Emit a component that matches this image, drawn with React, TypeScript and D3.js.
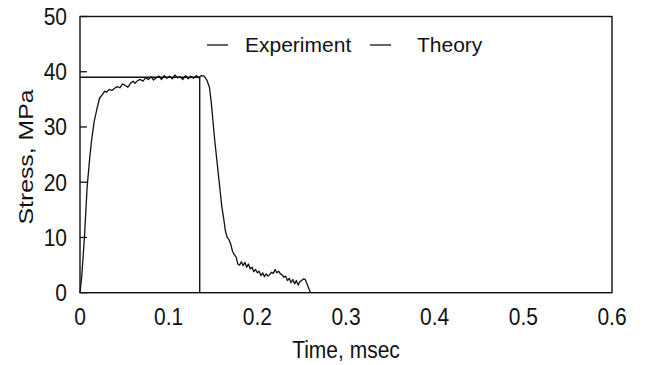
import React from "react";
import * as d3 from "d3";

const expT = [0,0.002,0.005,0.008,0.011,0.013,0.016,0.019,0.022,0.025,0.028,0.030,0.033,0.036,0.039,0.042,0.045,0.048,0.051,0.054,0.057,0.060,0.062,0.065,0.068,0.071,0.074,0.077,0.080,0.083,0.086,0.089,0.092,0.095,0.098,0.101,0.104,0.107,0.110,0.113,0.116,0.119,0.122,0.125,0.128,0.131,0.134,0.137,0.140,0.143,0.146,0.148,0.150,0.152,0.154,0.156,0.158,0.160,0.162,0.164,0.166,0.168,0.170,0.172,0.174,0.176,0.178,0.180,0.182,0.184,0.186,0.188,0.190,0.192,0.194,0.196,0.198,0.200,0.202,0.204,0.206,0.208,0.210,0.212,0.214,0.216,0.218,0.220,0.222,0.224,0.226,0.228,0.230,0.232,0.234,0.236,0.238,0.240,0.242,0.244,0.246,0.248,0.250,0.252,0.254,0.256,0.258,0.260];
const expV = [0,3,10,19,24.5,27.5,31,33.2,35.2,35.8,36.5,36.3,36.8,36.6,37.0,37.3,37.1,37.8,37.5,37.2,37.9,38.3,37.9,38.4,38.6,38.3,38.9,38.6,39.1,38.5,38.9,39.2,38.6,39.3,38.8,39.2,38.7,39.4,38.9,39.1,38.6,39.3,38.7,39.2,38.8,39.3,38.9,39.3,39.2,38.5,37.2,34.5,31,27.5,24.5,21.5,18.5,15.5,13.5,11.2,10.0,9.6,8.8,7.5,6.9,6.5,5.2,5.0,5.6,4.9,5.5,4.6,5.2,4.3,4.6,3.8,4.2,3.6,3.9,3.1,3.6,2.9,3.4,3.0,3.3,3.7,3.5,4.2,3.6,3.9,3.4,3.2,2.8,3.0,2.2,2.6,1.8,2.4,1.6,2.2,1.4,2.0,2.2,2.5,2.4,1.6,0.8,0];

const theoryT = [0, 0.135, 0.135];
const theoryV = [39.0, 39.0, 0];

const xTicks = [0, 0.1, 0.2, 0.3, 0.4, 0.5, 0.6];
const yTicks = [0, 10, 20, 30, 40, 50];
const legendLabels = ["Experiment", "Theory"];

const FONT = "Liberation Sans, Arial, Helvetica, sans-serif";

export default function App() {
  const left = 80, right = 612, top = 16.5, bottom = 292.7;
  const x = d3.scaleLinear().domain([0, 0.6]).range([left, right]);
  const y = d3.scaleLinear().domain([0, 50]).range([bottom, top]);
  const line = d3.line<[number, number]>().x(d => x(d[0])).y(d => y(d[1]));
  const expData: [number, number][] = expT.map((t, i) => [t, expV[i]]);
  const thData: [number, number][] = theoryT.map((t, i) => [t, theoryV[i]]);
  const legendX = [207, 370];
  const legendTextX = [245, 417];
  const sy = 1.1;

  return (
    <svg width={650} height={365} style={{ position: "absolute", left: 0, top: 0, background: "#fff" }} fontFamily={FONT}>
      <rect x={0} y={0} width={650} height={365} fill="#fff" />
      <path d={line(expData) || ""} fill="none" stroke="#111" strokeWidth={1.3} strokeLinejoin="round" />
      <path d={line(thData) || ""} fill="none" stroke="#111" strokeWidth={1.4} />
      <rect x={left} y={top} width={right - left} height={bottom - top} fill="none" stroke="#111" strokeWidth={1.4} />
      {yTicks.map(v => (
        <g key={"y" + v}>
          <line x1={left} x2={left + 7} y1={y(v)} y2={y(v)} stroke="#111" strokeWidth={1.3} />
          <text transform={`translate(67, ${y(v)}) scale(1, ${sy})`} dy="0.36em" textAnchor="end" fontSize={21} fill="#111">{v}</text>
        </g>
      ))}
      {xTicks.map(v => (
        <text key={"x" + v} transform={`translate(${x(v)}, 325) scale(1, ${sy})`} textAnchor="middle" fontSize={21} fill="#111">{v}</text>
      ))}
      <text transform={`translate(${(left + right) / 2}, 358) scale(1, ${sy})`} textAnchor="middle" fontSize={21} fill="#111">Time, msec</text>
      <text transform={`translate(33, 157) scale(1, 1.18) rotate(-90)`} textAnchor="middle" fontSize={21} fill="#111">Stress, MPa</text>
      {legendLabels.map((l, i) => (
        <g key={l}>
          <line x1={legendX[i]} x2={legendX[i] + 21} y1={45} y2={45} stroke="#111" strokeWidth={1.3} />
          <text x={legendTextX[i]} y={52} fontSize={21} fill="#111">{l}</text>
        </g>
      ))}
    </svg>
  );
}
